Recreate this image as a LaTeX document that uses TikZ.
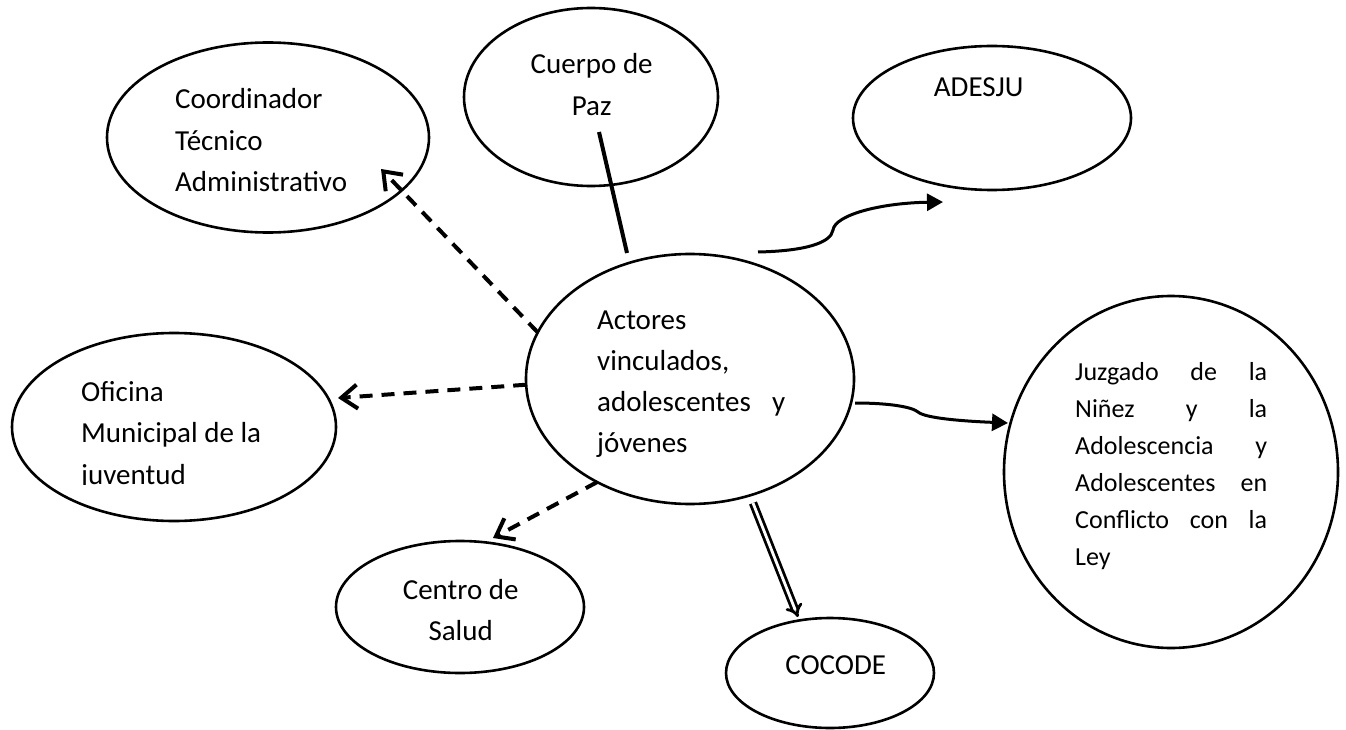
\documentclass[tikz,border=0pt]{standalone}
\usepackage{fontspec}
\setmainfont{Carlito}
\usetikzlibrary{shapes.geometric,arrows.meta}
\begin{document}
\begin{tikzpicture}[x=1pt,y=-1pt,
  ell/.style={draw, ellipse, line width=2.6pt, inner sep=0pt, outer sep=0pt},
  txt/.style={inner sep=0pt, anchor=base west, font=\fontsize{29}{41.5}\selectfont},
  dasharrow/.style={line width=4pt, dash pattern=on 13pt off 9pt, -{Straight Barb[length=16pt,width=24pt]}},
  curvearrow/.style={line width=3pt, -{Triangle[length=16pt,width=17pt]}},
  dblarrow/.style={double, double distance=2.8pt, line width=2.8pt, -{Implies[scale=1.6]}},
  plainline/.style={line width=4pt}]
\fill[white] (0,0) rectangle (1346,730);
\useasboundingbox (0,0) rectangle (1346,730);

% ellipses
\node[ell, minimum width=322pt, minimum height=190pt] (coord) at (268,137.5) {};
\node[ell, minimum width=254pt, minimum height=178pt] (paz) at (591,97) {};
\node[ell, minimum width=278pt, minimum height=144pt] (adesju) at (992,118) {};
\node[ell, minimum width=328pt, minimum height=250pt] (center) at (690,379) {};
\node[ell, minimum width=324pt, minimum height=188pt] (ofi) at (174,427) {};
\node[ell, minimum width=248pt, minimum height=132pt] (salud) at (460,607) {};
\node[ell, minimum width=208pt, minimum height=110pt] (cocode) at (830,673) {};
\node[ell, minimum width=334pt, minimum height=352pt] (juz) at (1171,472) {};

% texts
\node[txt] (tcoord) at (175,109) {\vtop{\hbox{Coordinador}\hbox{Técnico}\hbox{Administrativo}}};
\node[txt] (tpaz) at (591,74) {\vtop{\hbox to 0pt{\hss Cuerpo de\hss}\hbox to 0pt{\hss Paz\hss}}};
\node[txt] (tadesju) at (978,97) {\hbox to 0pt{\hss ADESJU\hss}};
\node[txt, font=\fontsize{29}{41}\selectfont] (tcenter) at (597,329) {\vtop{\hbox{Actores}\hbox{vinculados,}\hbox to 188pt{adolescentes\hfill y}\hbox{jóvenes}}};
\begin{scope}
\clip (0,300) rectangle (340,484.5);
\node[txt] (tofi) at (81,401) {\vtop{\hbox{Oficina}\hbox{Municipal de la}\hbox{juventud}}};
\end{scope}
\node[txt] (tsalud) at (460,599) {\vtop{\hbox to 0pt{\hss Centro de\hss}\hbox to 0pt{\hss Salud\hss}}};
\node[txt] (tcocode) at (835,674) {\hbox to 0pt{\hss COCODE\hss}};
\node[txt, font=\fontsize{26}{37}\selectfont] (tjuz) at (1075,380) {\vtop{\hbox to 192pt{Juzgado\hfill de\hfill la}\hbox to 192pt{Niñez\hfill y\hfill la}\hbox to 192pt{Adolescencia\hfill y}\hbox to 192pt{Adolescentes\hfill en}\hbox to 192pt{Conflicto\hfill con\hfill la}\hbox{Ley}}};

% connector end points
\coordinate (pazA) at (599,132);
\coordinate (pazB) at (627,253);
\coordinate (adsA) at (758,252);
\coordinate (adsB) at (943,202);
\coordinate (juzA) at (855,403);
\coordinate (juzB) at (1008,423);
\coordinate (cocA) at (753,503);
\coordinate (cocB) at (798,617);
\coordinate (cooB) at (381,169);
\coordinate (ofiB) at (338,398);
\coordinate (salB) at (493,538);

% connectors
\draw[plainline] (pazA) -- (pazB);
\draw[curvearrow] (adsA) .. controls (805,251) and (831,243) .. (833,230) .. controls (835,215) and (880,203) .. (adsB);
\draw[curvearrow] (juzA) .. controls (890,403) and (912,407) .. (918,412) .. controls (925,418) and (960,421) .. (juzB);
\draw[dblarrow] (cocA) -- (cocB);
\draw[dasharrow] (center.163) -- (cooB);
\draw[dasharrow] (center.182) -- (ofiB);
\draw[dasharrow] (center.228) -- (salB);
\end{tikzpicture}
\end{document}
